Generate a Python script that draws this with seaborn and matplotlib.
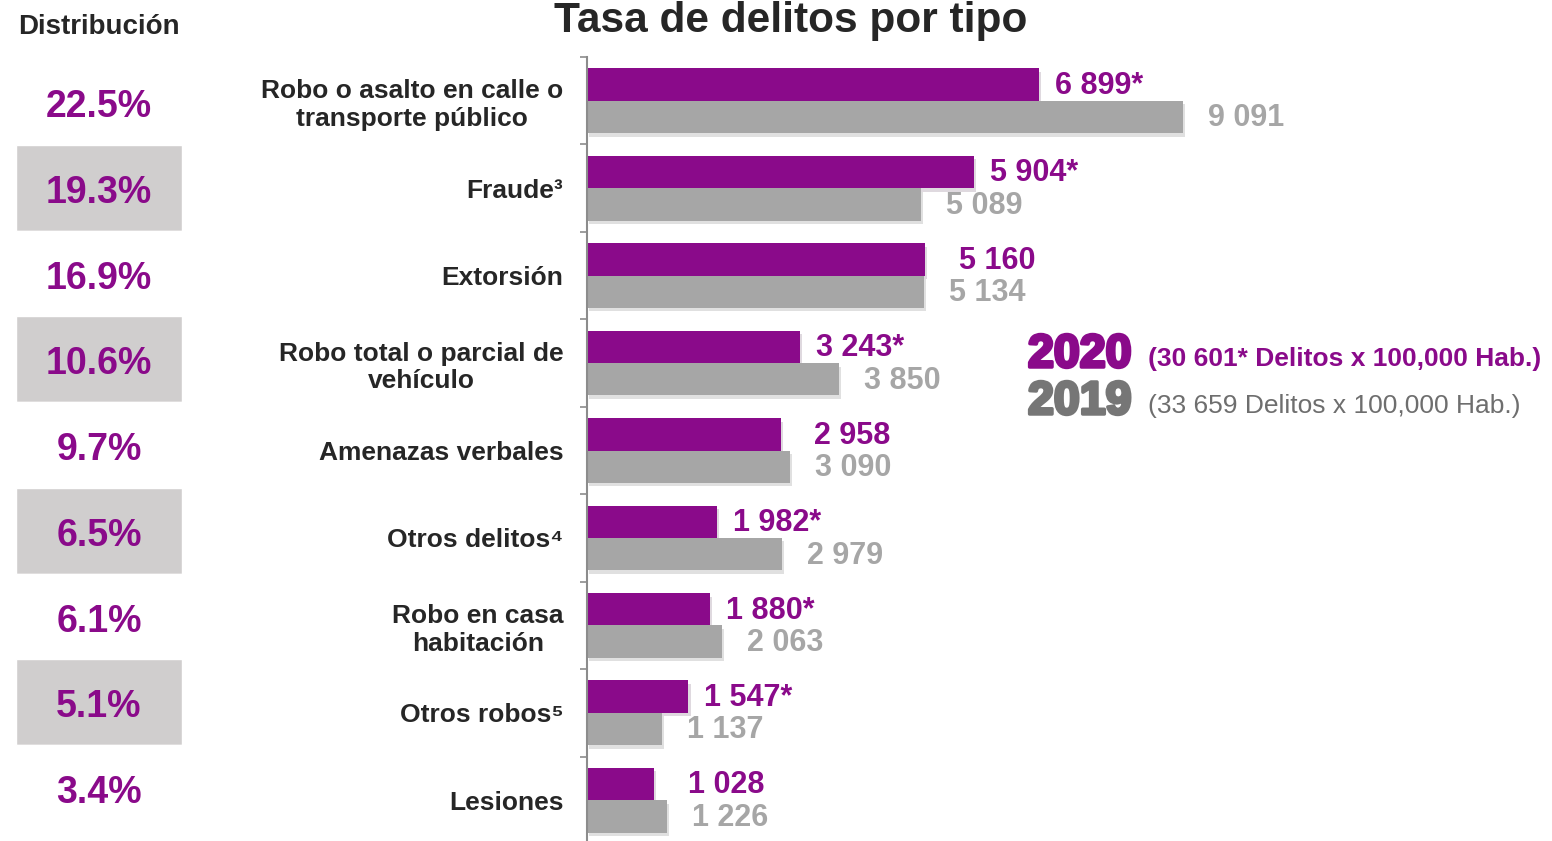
import numpy as np
import pandas as pd
import matplotlib
matplotlib.use("Agg")
import matplotlib.pyplot as plt
import matplotlib.patheffects as pe
import seaborn as sns

# Datos
categorias = [
    "Robo o asalto en calle o\ntransporte público",
    "Fraude³",
    "Extorsión",
    "Robo total o parcial de\nvehículo",
    "Amenazas verbales",
    "Otros delitos⁴",
    "Robo en casa\nhabitación",
    "Otros robos⁵",
    "Lesiones",
]
tasa_2020 = [6899, 5904, 5160, 3243, 2958, 1982, 1880, 1547, 1028]
tasa_2019 = [9091, 5089, 5134, 3850, 3090, 2979, 2063, 1137, 1226]
significativo_2020 = [True, True, False, True, False, True, True, True, False]
distribucion = [22.5, 19.3, 16.9, 10.6, 9.7, 6.5, 6.1, 5.1, 3.4]
anios = ["2020", "2019"]
total_2020 = "(30 601* Delitos x 100,000 Hab.)"
total_2019 = "(33 659 Delitos x 100,000 Hab.)"

MORADO = "#8A0A8A"
GRIS = "#A6A6A6"
GRIS_CAJA = "#D0CECE"
GRIS_2019 = "#767676"
OSCURO = "#262626"

sns.set_style("white")
plt.rcParams["font.family"] = ["Liberation Sans", "DejaVu Sans"]

df = pd.DataFrame({
    "categoria": categorias * 2,
    "anio": [anios[0]] * len(categorias) + [anios[1]] * len(categorias),
    "valor": tasa_2020 + tasa_2019,
})

W, H = 1552, 841
fig = plt.figure(figsize=(W / 100, H / 100), dpi=100)
ax = fig.add_axes([587 / W, -3 / H, 1 - 587 / W, 787 / H])

sns.barplot(data=df, y="categoria", x="valor", hue="anio", hue_order=anios,
            palette=[MORADO, GRIS], orient="h", width=0.74, saturation=1,
            linewidth=0, legend=False, ax=ax)

ax.set_xlim(0, 14720)
ax.set_ylim(len(categorias) - 0.5, -0.5)
ax.set_xlabel("")
ax.set_ylabel("")
ax.set_xticks([])
for s in ["top", "right", "bottom"]:
    ax.spines[s].set_visible(False)
ax.spines["left"].set_color("#8C8C8C")
ax.spines["left"].set_linewidth(1.5)

ax.set_yticks(range(len(categorias)))
ax.set_yticklabels(categorias, fontsize=19, fontweight="bold", color=OSCURO)
for lbl in ax.get_yticklabels():
    lbl.set_multialignment("center")
    lbl.set_linespacing(1.2)
ax.tick_params(axis="y", which="major", left=False, length=0, pad=17)
ax.set_yticks(np.arange(-0.5, len(categorias), 1), minor=True)
ax.tick_params(axis="y", which="minor", left=True, length=5, width=1.2,
               color="#8C8C8C")

# sombras suaves
for bar in ax.patches:
    bar.set_path_effects([pe.withSimplePatchShadow(offset=(1.5, -2.5), alpha=0.15),
                          pe.Normal()])

# etiquetas de valores
for bar, v, star in zip(ax.containers[0], tasa_2020, significativo_2020):
    txt = f"{v:,}".replace(",", " ") + ("*" if star else "")
    dx = 11.5 if star else 24
    ax.annotate(txt, (bar.get_width(), bar.get_y() + bar.get_height() / 2),
                xytext=(dx, -1), textcoords="offset points", ha="left", va="center",
                fontsize=22, fontweight="bold", color=MORADO)
for bar, v in zip(ax.containers[1], tasa_2019):
    txt = f"{v:,}".replace(",", " ")
    ax.annotate(txt, (bar.get_width(), bar.get_y() + bar.get_height() / 2),
                xytext=(18, -1), textcoords="offset points", ha="left", va="center",
                fontsize=22, fontweight="bold", color=GRIS)

# columna de distribución
ax2 = fig.add_axes([16 / W, 10 / H, 166 / W, 772 / H])
filas = np.arange(len(distribucion))
colores = [GRIS_CAJA if i % 2 else "white" for i in filas]
ax2.barh(filas, [1] * len(filas), height=1.0, left=0, color=colores)
for i, p in enumerate(distribucion):
    ax2.text(0.5, i + 0.06, f"{p:.1f}%", ha="center", va="center",
             fontsize=27, fontweight="bold", color=MORADO)
ax2.set_xlim(0, 1)
ax2.set_ylim(len(distribucion) - 0.5, -0.5)
ax2.axis("off")

# títulos
fig.text(791 / W, 1 - 21 / H, "Tasa de delitos por tipo", ha="center", va="center",
         fontsize=30.5, fontweight="bold", color=OSCURO)
fig.text(99 / W, 1 - 27 / H, "Distribución", ha="center", va="center",
         fontsize=20, fontweight="bold", color=OSCURO)

# leyenda
fig.text(1028 / W, 1 - 367 / H, anios[0], ha="left", va="baseline", fontsize=33.5,
         fontweight="bold", color=MORADO,
         path_effects=[pe.withStroke(linewidth=2.5, foreground=MORADO)])
fig.text(1148 / W, 1 - 366 / H, total_2020, ha="left", va="baseline", fontsize=19,
         fontweight="bold", color=MORADO)
fig.text(1028 / W, 1 - 414 / H, anios[1], ha="left", va="baseline", fontsize=33.5,
         fontweight="bold", color=GRIS_2019,
         path_effects=[pe.withStroke(linewidth=2.5, foreground=GRIS_2019)])
fig.text(1148 / W, 1 - 413 / H, total_2019, ha="left", va="baseline", fontsize=19,
         color="#6E6E6E")

fig.savefig("out.png", dpi=100)
